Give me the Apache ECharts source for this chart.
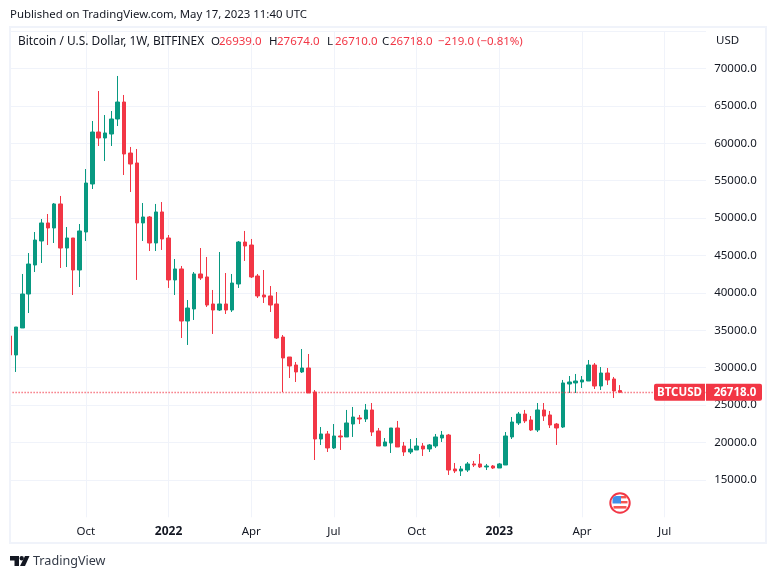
<!DOCTYPE html>
<html>
<head>
<meta charset="utf-8">
<title>BTCUSD</title>
<script src="https://cdn.jsdelivr.net/npm/echarts@6/dist/echarts.min.js"></script>
<style>
  html, body { margin: 0; padding: 0; background: #fff; }
  #chart { width: 776px; height: 579px; }
</style>
</head>
<body>
<div id="chart"></div>
<script>
// weekly bars, values
var opens = [34240, 31700, 35310, 39850, 43730, 46940, 49350, 48680, 51890, 46000, 47340, 43060, 48140,
  54560, 61510, 60710, 61240, 63250, 65520, 58700, 57370, 49350, 50150, 46670, 50820, 47340, 41730,
  43200, 36240, 37850, 42530, 42130, 38520, 37710, 38520, 37710, 41190, 46800, 46400, 42260, 39720,
  39590, 38520, 34100, 31430, 30360, 29430, 29960, 26750, 20470, 21140, 19270, 20870, 20740, 22470,
  23280, 23140, 24350, 21540, 19530, 19930, 21940, 19530, 18730, 19000, 19530, 19130, 19530, 20600,
  21000, 16460, 16190, 16320, 17130, 17130, 16730, 16860, 16590, 16990, 20740, 22610, 23810, 23010,
  21670, 24350, 23680, 22470, 22070, 27820, 27960, 28090, 28220, 30360, 27550, 29290, 28490, 26939];
var closes = [31700, 35440, 39850, 43860, 47070, 49350, 48680, 51890, 46000, 47340, 43060, 48280, 54690,
  61510, 60710, 61380, 63250, 65520, 58570, 57230, 49350, 50150, 46670, 50820, 47210, 41730, 43200,
  36240, 37980, 42530, 41990, 38380, 37710, 38520, 37710, 41320, 46800, 46270, 42130, 39590, 39450,
  38380, 33970, 31300, 30230, 29430, 29960, 26620, 20470, 21140, 19270, 20870, 20740, 22610, 23410,
  23140, 24350, 21400, 19530, 20070, 21940, 19400, 18730, 19130, 19530, 19130, 19670, 20740, 21000,
  16320, 16190, 16460, 17130, 16990, 16730, 16860, 16590, 17130, 20870, 22740, 23810, 22880, 21670,
  24350, 23540, 22340, 21940, 27960, 28090, 28220, 28360, 30360, 27550, 29290, 28360, 26890, 26718];
var lows = [31560, 29430, 35310, 37310, 42790, 44000, 46400, 46670, 43330, 43460, 39720, 40790, 46940,
  53890, 59640, 57630, 59640, 62310, 55760, 53490, 41730, 46940, 45600, 45600, 45740, 40660, 39720,
  33970, 33040, 36380, 41730, 38120, 34510, 37580, 37180, 37450, 40660, 44270, 41990, 39320, 38650,
  37450, 33840, 26750, 28620, 28090, 29290, 26620, 17660, 19670, 18730, 19130, 19000, 20740, 20740,
  22470, 22740, 20870, 19530, 19530, 18600, 19400, 18200, 18460, 19000, 18200, 18730, 19270, 20070,
  15660, 15920, 15520, 16060, 16730, 16590, 16320, 16460, 16590, 16990, 20470, 22340, 22610, 21540,
  21400, 22880, 21940, 19670, 21940, 26620, 26620, 27290, 28220, 27150, 27020, 27690, 25950, 26710];
var highs = [34370, 35440, 42530, 45330, 48140, 49880, 50550, 52020, 52960, 48810, 47340, 49210, 56560,
  62980, 66990, 63780, 64320, 69000, 66460, 59510, 59240, 52020, 50280, 51890, 52150, 47740, 44530,
  43600, 39050, 42790, 46000, 44800, 40390, 45470, 42660, 42530, 46940, 48280, 47210, 42530, 43060,
  40920, 40120, 34370, 31430, 30760, 32500, 31830, 27020, 22070, 21540, 22470, 21670, 24350, 24750,
  23680, 25150, 25280, 21940, 20600, 21940, 22880, 20070, 20470, 20600, 19930, 19800, 21140, 21540,
  21140, 17260, 16860, 17390, 17530, 18460, 17130, 16990, 17260, 21400, 23410, 24080, 24350, 23540,
  25280, 25280, 24210, 22610, 28360, 28890, 29160, 28890, 31030, 30630, 30090, 29960, 28760, 27674];

var firstWeek = "2021-07-12";
var weekCount = 111; // room to the right of the last bar
var tickWeeks = ["2021-10-04", "2022-01-03", "2022-04-04", "2022-07-04", "2022-10-03", "2023-01-02", "2023-04-03", "2023-07-03"];
var tickLabels = ["Oct", "2022", "Apr", "Jul", "Oct", "2023", "Apr", "Jul"];

var symbol = "BTCUSD";
var lastClose = 26718;
var legendTitle = "Bitcoin / U.S. Dollar, 1W, BITFINEX";
var legendKeys = ["O", "H", "L", "C"];
var legendValues = ["26939.0", "27674.0", "26710.0", "26718.0"];
var legendChange = "\u2212219.0 (\u22120.81%)";

var UP = "#089981", DOWN = "#f23645", GRID = "#f0f3fa", TEXT = "#131722";
var FONT = '"Noto Sans", sans-serif';

var categories = [];
for (var i = 0; i < weekCount; i++) {
  var d = new Date(Date.parse(firstWeek + "T00:00:00Z") + i * 7 * 86400000);
  categories.push(d.toISOString().slice(0, 10));
}
var candles = opens.map(function (o, i) {
  return [o, closes[i], lows[i], highs[i]];
});

var chart = echarts.init(document.getElementById("chart"), null, { renderer: "canvas" });

function txt(x, y, text, color, size) {
  return {
    type: "text", z: 60, x: x, y: y,
    style: { text: text, fill: color, font: (size || 11.5) + "px " + FONT, textVerticalAlign: "middle" }
  };
}

function statics() {
  var els = [
    // covers the ends of the grid under the frame and next to the scale
    { type: "rect", z: 50, shape: { x: 0, y: 20, width: 10, height: 530 }, style: { fill: "#fff" } },
    { type: "rect", z: 50, shape: { x: 706, y: 20, width: 6, height: 500 }, style: { fill: "#fff" } },
    // frame
    { type: "rect", z: 51, shape: { x: 10, y: 27, width: 756, height: 516 }, style: { fill: "transparent", stroke: GRID, lineWidth: 2 } },
    txt(10, 15, "Published on TradingView.com, May 17, 2023 11:40 UTC", TEXT, 11.4),
    txt(18, 41.5, legendTitle, TEXT, 11.9),
    txt(716, 41, "USD", TEXT, 11.5)
  ];
  // O H L C values in the legend
  var keyX = [211, 269, 327, 382];
  legendKeys.forEach(function (k, i) {
    els.push(txt(keyX[i], 41.5, k, TEXT));
    els.push(txt(keyX[i] + 8, 41.5, legendValues[i], DOWN));
  });
  els.push(txt(438, 41.5, legendChange, DOWN));

  // TradingView logo and name
  els.push({ type: "polygon", z: 60, shape: { points: [[10, 556], [19, 556], [19, 566], [14.5, 566], [14.5, 560.5], [10, 560.5]] }, style: { fill: TEXT } });
  els.push({ type: "circle", z: 60, shape: { cx: 21.7, cy: 558.2, r: 2.2 }, style: { fill: TEXT } });
  els.push({ type: "polygon", z: 60, shape: { points: [[25, 556], [29.5, 556], [25, 566], [20, 566]] }, style: { fill: TEXT } });
  els.push({ type: "text", z: 60, x: 33, y: 561.5, style: { text: "TradingView", fill: "#333a47", font: "12.6px " + FONT, textVerticalAlign: "middle" } });

  // economic event flag
  var fx = 620, fy = 503;
  els.push({ type: "circle", z: 60, shape: { cx: fx, cy: fy, r: 9.7 }, style: { fill: "#fff", stroke: DOWN, lineWidth: 2 } });
  els.push({ type: "rect", z: 61, shape: { x: fx, y: fy - 7, width: 6.5, height: 2.4 }, style: { fill: "#f4564f" } });
  els.push({ type: "rect", z: 61, shape: { x: fx, y: fy - 2, width: 7.5, height: 2.4 }, style: { fill: "#f4564f" } });
  els.push({ type: "rect", z: 61, shape: { x: fx - 6.5, y: fy + 3, width: 13, height: 2.6 }, style: { fill: "#f4564f" } });
  els.push({ type: "rect", z: 62, shape: { x: fx - 7.5, y: fy - 7, width: 8.5, height: 7.5, r: [4, 0, 0, 0] }, style: { fill: "#3f8fe8" } });
  return els;
}

function priceTags() {
  var y = chart.convertToPixel({ yAxisIndex: 0 }, lastClose);
  return [
    { type: "rect", z: 70, shape: { x: 654, y: y - 8.5, width: 51, height: 17, r: [2, 0, 0, 2] }, style: { fill: DOWN } },
    { type: "rect", z: 70, shape: { x: 706, y: y - 8.5, width: 56, height: 17, r: [0, 2, 2, 0] }, style: { fill: DOWN } },
    { type: "text", z: 71, x: 679.5, y: y, style: { text: symbol, fill: "#fff", font: "bold 11.5px " + FONT, textAlign: "center", textVerticalAlign: "middle" } },
    { type: "text", z: 71, x: 735, y: y, style: { text: lastClose.toFixed(1), fill: "#fff", font: "bold 11.5px " + FONT, textAlign: "center", textVerticalAlign: "middle" } }
  ];
}

var option = {
  animation: false,
  backgroundColor: "#fff",
  grid: { left: 9.6, top: 31.1, width: 699.6, height: 486.2, containLabel: false },
  xAxis: {
    type: "category",
    data: categories,
    boundaryGap: false,
    axisLine: { show: false },
    axisTick: { show: false },
    axisLabel: {
      interval: function (idx, value) { return tickWeeks.indexOf(value) >= 0; },
      formatter: function (value) {
        var label = tickLabels[tickWeeks.indexOf(value)];
        return label.length === 4 ? "{y|" + label + "}" : label;
      },
      margin: 8,
      color: TEXT,
      fontFamily: FONT,
      fontSize: 11.5,
      hideOverlap: false,
      rich: { y: { fontWeight: "bold", color: TEXT, fontFamily: FONT, fontSize: 12 } }
    },
    splitLine: {
      show: true,
      interval: function (idx, value) { return tickWeeks.indexOf(value) >= 0; },
      lineStyle: { color: GRID, width: 1 }
    }
  },
  yAxis: {
    type: "value",
    position: "right",
    min: 10000,
    max: 75000,
    interval: 5000,
    scale: true,
    axisLine: { show: false },
    axisTick: { show: false },
    axisLabel: {
      margin: 5,
      showMinLabel: false,
      showMaxLabel: false,
      color: TEXT,
      fontFamily: FONT,
      fontSize: 11.5,
      formatter: function (v) { return v.toFixed(1); }
    },
    splitLine: { show: true, showMinLine: false, lineStyle: { color: GRID, width: 1 } }
  },
  series: [{
    type: "candlestick",
    data: candles,
    barWidth: 4,
    clip: true,
    itemStyle: { color: UP, color0: DOWN, borderColor: UP, borderColor0: DOWN, borderWidth: 1 },
    markLine: {
      silent: true,
      symbol: "none",
      label: { show: false },
      lineStyle: { color: DOWN, type: [1, 2], width: 1.4 },
      data: [{ yAxis: lastClose }]
    }
  }],
  graphic: { elements: statics() }
};

chart.setOption(option);
chart.setOption({ graphic: { elements: statics().concat(priceTags()) } }, { replaceMerge: ["graphic"] });
</script>
</body>
</html>
